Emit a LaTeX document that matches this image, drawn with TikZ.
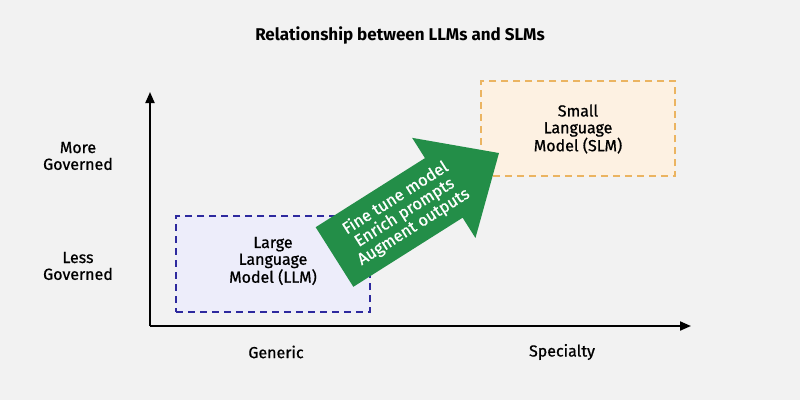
\documentclass[tikz,border=0pt]{standalone}
\usepackage{fontspec}
\setmainfont{Fira Sans}[UprightFeatures={FakeBold=0.8}]
\usetikzlibrary{arrows.meta}
\definecolor{bg}{HTML}{F2F2F2}
\definecolor{llmfill}{HTML}{EDEDFA}
\definecolor{llmline}{HTML}{2E2A9E}
\definecolor{slmfill}{HTML}{FDF1E2}
\definecolor{slmline}{HTML}{EBB461}
\definecolor{arrowgreen}{HTML}{238E48}
\tikzset{
  lbl/.style={font=\fontsize{16}{16.8}\selectfont, text=black, align=center, inner sep=0pt},
  boxllm/.style={draw=llmline, fill=llmfill, dash pattern=on 7pt off 5pt, line width=1.5pt, minimum width=194pt, minimum height=96pt, inner sep=0pt},
  boxslm/.style={draw=slmline, fill=slmfill, dash pattern=on 7pt off 5pt, line width=1.5pt, minimum width=194pt, minimum height=95pt, inner sep=0pt},
  axis/.style={line width=2pt, -{Triangle[length=11pt,width=9pt]}},
}
\begin{document}
\begin{tikzpicture}[x=1pt,y=-1pt]
\fill[bg] (0,0) rectangle (800,400);
\useasboundingbox (0,0) rectangle (800,400);
\node[lbl, font=\fontsize{17}{17}\selectfont\bfseries] (title) at (400,35) {Relationship between LLMs and SLMs};
\coordinate (origin) at (150,326);
\coordinate (ytip) at (150,92);
\coordinate (xtip) at (691,326);
\draw[axis] (origin) -- (ytip);
\draw[axis] (origin) -- (xtip);
\node[lbl] (more) at (78,156) {More\\Governed};
\node[lbl] (less) at (78,266) {Less\\Governed};
\node[lbl] (generic) at (276,352) {Generic};
\node[lbl] (special) at (562,352) {Specialty};
\node[boxllm] (llm) at (273,264) {};
\node[lbl] (llmtext) at (273,261) {Large\\Language\\Model (LLM)};
\node[boxslm] (slm) at (578,128.5) {};
\node[lbl] (slmtext) at (578,129) {Small\\Language\\Model (SLM)};
\begin{scope}[shift={(334.5,257)}, rotate=32.3]
\fill[arrowgreen] (0,-35.25) -- (129.3,-35.25) -- (129.3,-59.25) -- (194.6,0) -- (129.3,59.25) -- (129.3,35.25) -- (0,35.25) -- cycle;
\node[lbl, text=white, transform shape, font=\fontsize{16.5}{17}\selectfont] (arrowtext) at (83,0) {Fine tune model\\Enrich prompts\\Augment outputs};
\end{scope}
\end{tikzpicture}
\end{document}
